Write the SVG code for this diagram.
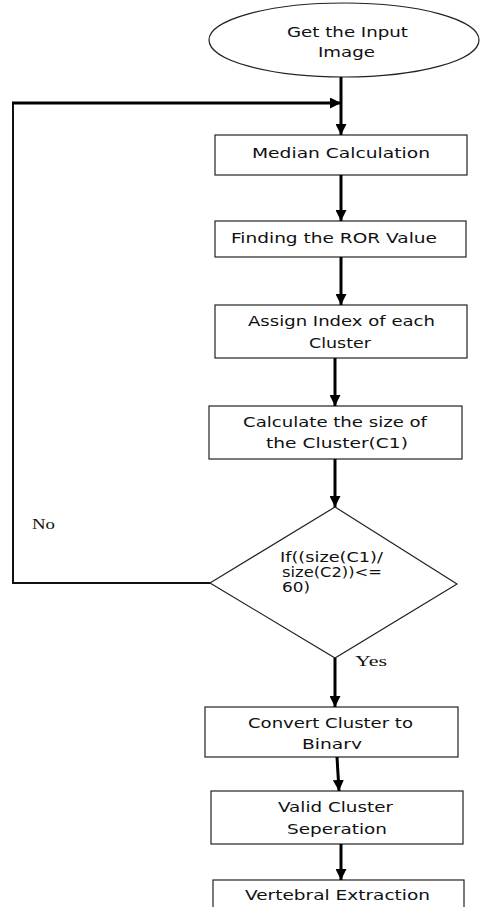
<svg xmlns="http://www.w3.org/2000/svg" width="484" height="907" viewBox="0 0 484 907">
<style>
.box{fill:#fff;stroke:#222;stroke-width:1.2}
.t{font-family:"DejaVu Sans","Liberation Sans",sans-serif;font-size:14px;fill:#111}
.d{font-family:"DejaVu Sans","Liberation Sans",sans-serif;font-size:13.5px;fill:#111}
.s{font-family:"Liberation Serif",serif;font-size:14px;fill:#111}
.c{fill:none;stroke:#000;stroke-width:3}
.f{fill:none;stroke:#111;stroke-width:2}
</style>
<defs>
<marker id="ah" markerUnits="userSpaceOnUse" markerWidth="12" markerHeight="11" refX="11" refY="5.5" orient="auto">
<path d="M0,0 L11,5.5 L0,11 Z" fill="#000"/>
</marker>
<clipPath id="cb"><rect x="205" y="707" width="253" height="42"/></clipPath>
</defs>
<rect width="484" height="907" fill="#fff"/>

<g id="start">
<ellipse class="box" cx="344" cy="40" rx="135" ry="37"/>
<text class="t" x="287" y="37" textLength="121" lengthAdjust="spacingAndGlyphs">Get the Input</text>
<text class="t" x="318" y="57" textLength="57" lengthAdjust="spacingAndGlyphs">Image</text>
</g>
<g id="median">
<rect class="box" x="215" y="135" width="252" height="40"/>
<text class="t" x="252" y="158" textLength="178" lengthAdjust="spacingAndGlyphs">Median Calculation</text>
</g>
<g id="ror">
<rect class="box" x="215" y="221" width="251" height="36"/>
<text class="t" x="231" y="243" textLength="206" lengthAdjust="spacingAndGlyphs">Finding the ROR Value</text>
</g>
<g id="assign">
<rect class="box" x="215" y="305" width="252" height="53"/>
<text class="t" x="248" y="326" textLength="187" lengthAdjust="spacingAndGlyphs">Assign Index of each</text>
<text class="t" x="309" y="348" textLength="62" lengthAdjust="spacingAndGlyphs">Cluster</text>
</g>
<g id="calc">
<rect class="box" x="209" y="406" width="253" height="53"/>
<text class="t" x="243" y="427" textLength="184" lengthAdjust="spacingAndGlyphs">Calculate the size of</text>
<text class="t" x="266" y="448" textLength="142" lengthAdjust="spacingAndGlyphs">the Cluster(C1)</text>
</g>
<g id="decision">
<polygon class="box" points="335,507 457,584 335,658 210,583"/>
<text class="d" x="280" y="562" textLength="103" lengthAdjust="spacingAndGlyphs">If((size(C1)/</text>
<text class="d" x="282" y="577" textLength="100" lengthAdjust="spacingAndGlyphs">size(C2))&lt;=</text>
<text class="d" x="282" y="592" textLength="28" lengthAdjust="spacingAndGlyphs">60)</text>
</g>
<g id="convert">
<rect class="box" x="205" y="707" width="253" height="50"/>
<text class="t" x="248" y="728" textLength="165" lengthAdjust="spacingAndGlyphs">Convert Cluster to</text>
<text class="t" x="302" y="749" textLength="60" lengthAdjust="spacingAndGlyphs" clip-path="url(#cb)">Binary</text>
</g>
<g id="valid">
<rect class="box" x="211" y="791" width="252" height="53"/>
<text class="t" x="278" y="812" textLength="115" lengthAdjust="spacingAndGlyphs">Valid Cluster</text>
<text class="t" x="287" y="834" textLength="100" lengthAdjust="spacingAndGlyphs">Seperation</text>
</g>
<g id="vertebral">
<rect class="box" x="213" y="880" width="251" height="40"/>
<text class="t" x="245" y="900" textLength="185" lengthAdjust="spacingAndGlyphs">Vertebral Extraction</text>
</g>

<g id="connectors">
<line class="c" x1="341" y1="77" x2="341" y2="135" marker-end="url(#ah)"/>
<line class="c" x1="341" y1="175" x2="341" y2="221" marker-end="url(#ah)"/>
<line class="c" x1="341" y1="257" x2="341" y2="305" marker-end="url(#ah)"/>
<line class="c" x1="335" y1="358" x2="335" y2="406" marker-end="url(#ah)"/>
<line class="c" x1="335" y1="459" x2="335" y2="507" marker-end="url(#ah)"/>
<line class="c" x1="335" y1="658" x2="335" y2="707" marker-end="url(#ah)"/>
<line class="c" x1="337" y1="757" x2="339" y2="791" marker-end="url(#ah)"/>
<line class="c" x1="341" y1="844" x2="341" y2="880" marker-end="url(#ah)"/>
<polyline class="f" points="210,583 13,583 13,103"/>
<line class="c" x1="12" y1="103" x2="341" y2="103" marker-end="url(#ah)"/>
<text class="s" x="32" y="529" textLength="23" lengthAdjust="spacingAndGlyphs">No</text>
<text class="s" x="355" y="666" textLength="32" lengthAdjust="spacingAndGlyphs">Yes</text>
</g>
</svg>
